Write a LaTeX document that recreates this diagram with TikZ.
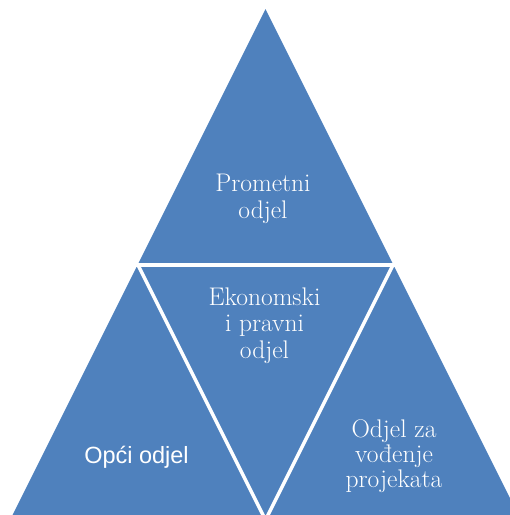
\documentclass[tikz,border=0pt]{standalone}
\usepackage{fontspec}
\newfontfamily\lsans{Liberation Sans}
\definecolor{tblue}{RGB}{79,129,189}
\begin{document}
\begin{tikzpicture}[x=1pt,y=-1pt,
  lbl/.style={text=white,align=center,anchor=base,inner sep=0pt,font=\rmfamily\fontsize{25.5}{26.5}\selectfont},
  gap/.style={white,line width=4pt}]
\useasboundingbox (0,0) rectangle (510,515);
\begin{scope}
\clip (0,0) rectangle (510,515);
\coordinate (A) at (265.5,9);
\coordinate (L) at (-0.5,541);
\coordinate (R) at (531.5,541);
\coordinate (ML) at (137.75,264.5);
\coordinate (MR) at (393.25,264.5);
\coordinate (MB) at (265.5,520);
\fill[tblue] (A) -- (L) -- (R) -- cycle;
\draw[gap] (0,264.5) -- (510,264.5);
\draw[gap,line width=3.5pt] (ML) -- (MB) -- (MR);
\end{scope}
\node[lbl] (prom) at (263,218) {Prometni\\odjel};
\node[lbl] (eko) at (264.5,358) {Ekonomski\\i pravni\\odjel};
\node[lbl,font=\lsans\fontsize{23.5}{25}\selectfont] (opci) at (136.5,463) {Opći odjel};
\node[lbl,font=\rmfamily\fontsize{25.5}{25}\selectfont] (proj) at (394,487) {Odjel za\\vođenje\\projekata};
\end{tikzpicture}
\end{document}
